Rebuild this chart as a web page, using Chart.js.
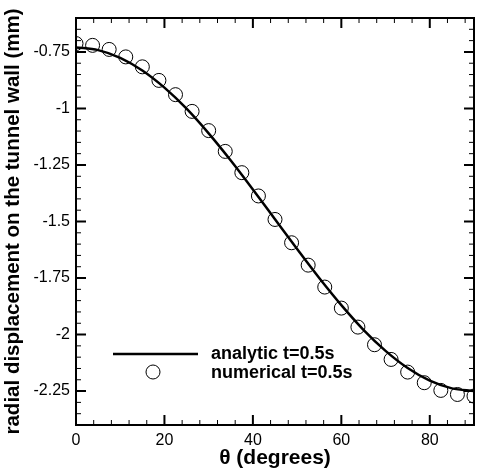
<!DOCTYPE html>
<html>
<head>
<meta charset="utf-8">
<script src="https://cdn.jsdelivr.net/npm/chart.js@4"></script>
<style>
  html, body { margin: 0; padding: 0; background: #fff; }
  #wrap { width: 482px; height: 471px; }
</style>
</head>
<body>
<div id="wrap"><canvas id="myChart"></canvas></div>
<script>
// analytic solution, every 5 degrees
const thetaAnalytic = [0, 5, 10, 15, 20, 25, 30, 35, 40, 45, 50, 55, 60, 65, 70, 75, 80, 85, 90];
const radialAnalytic = [-0.730, -0.742, -0.776, -0.832, -0.908, -1.001, -1.110, -1.230, -1.358, -1.490,
  -1.622, -1.750, -1.870, -1.979, -2.072, -2.148, -2.204, -2.238, -2.250];

// numerical results (circles)
const thetaNumerical = [0, 3.75, 7.5, 11.25, 15, 18.75, 22.5, 26.25, 30, 33.75, 37.5, 41.25, 45,
  48.75, 52.5, 56.25, 60, 63.75, 67.5, 71.25, 75, 78.75, 82.5, 86.25, 90];
const radialNumerical = [-0.713, -0.721, -0.739, -0.772, -0.816, -0.876, -0.939, -1.013, -1.098,
  -1.190, -1.284, -1.387, -1.491, -1.594, -1.693, -1.790, -1.883, -1.967, -2.045, -2.110, -2.166,
  -2.213, -2.247, -2.265, -2.272];

const xTickLabels = [0, 20, 40, 60, 80];
const yTickLabels = [-0.75, -1, -1.25, -1.5, -1.75, -2, -2.25];
const seriesLabels = ['analytic t=0.5s', 'numerical t=0.5s'];

const FONT = 'Liberation Sans, Arial, Helvetica, sans-serif';

const toPoints = (xs, ys) => xs.map((x, i) => ({x: x, y: ys[i]}));

// frame and inward ticks on all four sides
const framePlugin = {
  id: 'frameTicks',
  afterDraw: (chart) => {
    const {ctx, chartArea} = chart;
    const xs = chart.scales.x, ys = chart.scales.y;
    ctx.save();
    ctx.strokeStyle = '#000';
    ctx.lineWidth = 2;
    ctx.strokeRect(chartArea.left, chartArea.top, chartArea.right - chartArea.left, chartArea.bottom - chartArea.top);

    for (let v = 0; v <= 90; v += 4) {
      const major = v % 20 === 0;
      const len = major ? 10 : 5;
      const px = xs.getPixelForValue(v);
      ctx.lineWidth = major ? 2 : 1;
      ctx.beginPath();
      ctx.moveTo(px, chartArea.bottom); ctx.lineTo(px, chartArea.bottom - len);
      ctx.moveTo(px, chartArea.top); ctx.lineTo(px, chartArea.top + len);
      ctx.stroke();
    }
    for (let k = -48; k <= -12; k++) {
      const v = k * 0.05;
      const major = k % 5 === 0;
      const len = major ? 10 : 5;
      const py = ys.getPixelForValue(v);
      ctx.lineWidth = major ? 2 : 1;
      ctx.beginPath();
      ctx.moveTo(chartArea.left, py); ctx.lineTo(chartArea.left + len, py);
      ctx.moveTo(chartArea.right, py); ctx.lineTo(chartArea.right - len, py);
      ctx.stroke();
    }

    // legend inside the plot
    ctx.lineWidth = 2.5;
    ctx.beginPath();
    ctx.moveTo(113, 354); ctx.lineTo(198, 354);
    ctx.stroke();
    ctx.lineWidth = 1;
    ctx.beginPath();
    ctx.arc(153, 372, 7, 0, Math.PI * 2);
    ctx.stroke();
    ctx.fillStyle = '#000';
    ctx.font = 'bold 18px ' + FONT;
    ctx.textBaseline = 'middle';
    ctx.textAlign = 'left';
    ctx.fillText(chart.data.datasets[0].label, 211, 354);
    ctx.fillText(chart.data.datasets[1].label, 211, 373);
    ctx.restore();
  }
};

const config = {
  type: 'scatter',
  data: {
    datasets: [{
      label: seriesLabels[0],
      data: toPoints(thetaAnalytic, radialAnalytic),
      showLine: true,
      borderColor: '#000',
      borderWidth: 2.5,
      pointRadius: 0,
      cubicInterpolationMode: 'monotone',
      fill: false
    }, {
      label: seriesLabels[1],
      data: toPoints(thetaNumerical, radialNumerical),
      showLine: false,
      pointRadius: 7,
      pointBorderWidth: 1,
      pointBorderColor: '#000',
      pointBackgroundColor: 'rgba(0,0,0,0)'
    }]
  },
  options: {
    responsive: true,
    maintainAspectRatio: false,
    animation: false,
    layout: { padding: { top: 18, right: 5, left: 0, bottom: 0 } },
    plugins: {
      legend: { display: false },
      tooltip: { enabled: false }
    },
    scales: {
      x: {
        type: 'linear',
        min: 0,
        max: 90,
        afterBuildTicks: (scale) => { scale.ticks = xTickLabels.map(v => ({value: v})); },
        afterFit: (scale) => { scale.height = 46; },
        grid: { display: false, drawTicks: false },
        border: { display: false },
        ticks: {
          color: '#000',
          padding: 6,
          font: { family: FONT, size: 16 },
          maxRotation: 0,
          callback: (v) => String(v)
        },
        title: {
          display: true,
          text: 'θ (degrees)',
          color: '#000',
          font: { family: FONT, size: 21, weight: 'bold' },
          padding: { top: 0, bottom: 0 }
        }
      },
      y: {
        type: 'linear',
        min: -2.4,
        max: -0.6,
        afterBuildTicks: (scale) => { scale.ticks = yTickLabels.map(v => ({value: v})); },
        afterFit: (scale) => { scale.width = 76; },
        grid: { display: false, drawTicks: false },
        border: { display: false },
        ticks: {
          color: '#000',
          padding: 6,
          font: { family: FONT, size: 16 },
          callback: (v) => String(v)
        },
        title: {
          display: true,
          text: 'radial displacement on the tunnel wall (mm)',
          color: '#000',
          font: { family: FONT, size: 20.5, weight: 'bold' },
          padding: { top: 1, bottom: 0 }
        }
      }
    }
  },
  plugins: [framePlugin]
};

new Chart(document.getElementById('myChart'), config);
</script>
</body>
</html>
